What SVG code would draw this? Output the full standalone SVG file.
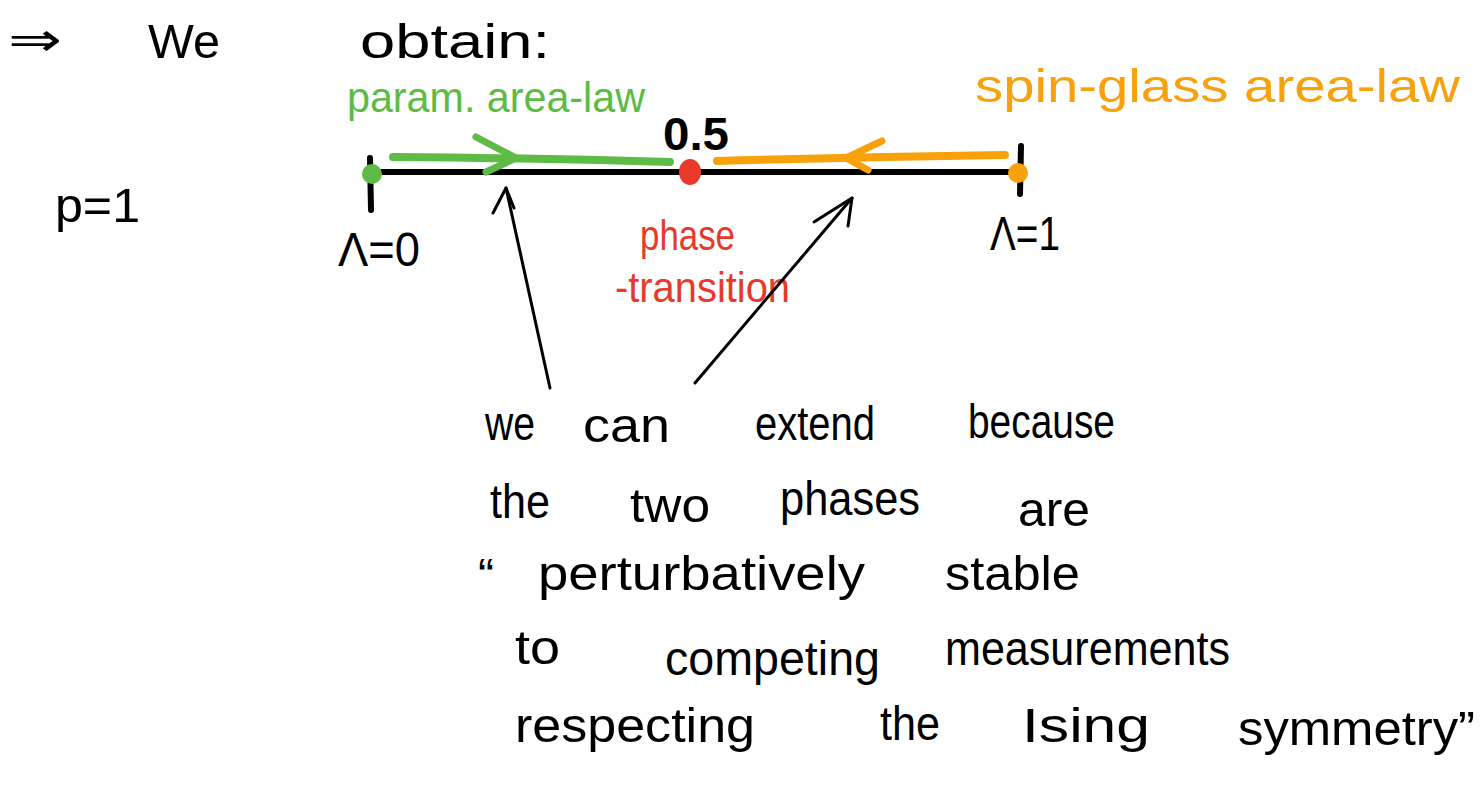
<svg xmlns="http://www.w3.org/2000/svg" width="1483" height="801" viewBox="0 0 1483 801">
<style>
text{font-family:"Liberation Sans","DejaVu Sans",sans-serif;}
.k{fill:#000;font-size:48px;}
.g{fill:#5dbb46;font-size:42px;}
.o{fill:#f9a10b;font-size:46px;}
.r{fill:#e8392a;font-size:42px;}
.stk{fill:none;stroke-linecap:round;stroke-linejoin:round;}
</style>
<rect width="1483" height="801" fill="#fff"/>
<g id="title">
<text class="k" x="8" y="56" font-size="64" textLength="54" lengthAdjust="spacingAndGlyphs">⇒</text>
<text class="k" x="148" y="58" font-size="62" textLength="72" lengthAdjust="spacingAndGlyphs">We</text>
<text class="k" x="360" y="58" font-size="52" textLength="190" lengthAdjust="spacingAndGlyphs">obtain:</text>
</g>
<g id="p-label"><text class="k" x="55" y="222" font-size="54" textLength="85" lengthAdjust="spacingAndGlyphs">p=1</text></g>
<g id="label-param"><text class="g" x="347" y="112" textLength="298" lengthAdjust="spacingAndGlyphs">param. area-law</text></g>
<g id="label-spin"><text class="o" x="975" y="102" textLength="485" lengthAdjust="spacingAndGlyphs">spin-glass area-law</text></g>
<g id="label-05"><text x="663" y="150" font-size="46" font-weight="bold" fill="#000" textLength="66" lengthAdjust="spacingAndGlyphs">0.5</text></g>
<g id="axis">
<line x1="370" y1="172" x2="1020" y2="172" stroke="#000" stroke-width="6"/>
<line class="stk" x1="370" y1="158" x2="371" y2="210" stroke="#000" stroke-width="6"/>
<line class="stk" x1="1021" y1="146" x2="1020" y2="194" stroke="#000" stroke-width="6"/>
</g>
<g id="node-left"><circle cx="372" cy="174" r="10" fill="#5dbb46"/>
<text class="k" x="338" y="266" font-size="44" textLength="82" lengthAdjust="spacingAndGlyphs">Λ=0</text></g>
<g id="node-mid"><ellipse cx="690" cy="172" rx="11" ry="13" fill="#e8392a"/></g>
<g id="node-right"><circle cx="1018" cy="173" r="10" fill="#f9a10b"/>
<text class="k" x="990" y="250" font-size="34" textLength="70" lengthAdjust="spacingAndGlyphs">Λ=1</text></g>
<g id="label-phase">
<text class="r" x="640" y="250" textLength="95" lengthAdjust="spacingAndGlyphs">phase</text>
<text class="r" x="615" y="302" textLength="175" lengthAdjust="spacingAndGlyphs">-transition</text>
</g>
<g id="connectors">
<path class="stk" d="M393 157 Q530 158 670 162" stroke="#5dbb46" stroke-width="8"/>
<path class="stk" d="M476 137 L516 158 L486 172" stroke="#5dbb46" stroke-width="7"/>
<path class="stk" d="M717 161 Q860 157 1005 155" stroke="#f9a10b" stroke-width="8"/>
<path class="stk" d="M882 141 L846 158 L868 170" stroke="#f9a10b" stroke-width="7"/>
<path class="stk" d="M550 388 L506 188" stroke="#000" stroke-width="3"/>
<path class="stk" d="M493 213 L506 188 L514 208" stroke="#000" stroke-width="3"/>
<path class="stk" d="M695 383 L852 198" stroke="#000" stroke-width="3"/>
<path class="stk" d="M814 222 L852 198 L848 226" stroke="#000" stroke-width="3"/>
</g>
<g id="note">
<text class="k" x="485" y="440" textLength="50" lengthAdjust="spacingAndGlyphs">we</text>
<text class="k" x="583" y="442" textLength="87" lengthAdjust="spacingAndGlyphs">can</text>
<text class="k" x="755" y="440" textLength="120" lengthAdjust="spacingAndGlyphs">extend</text>
<text class="k" x="968" y="438" textLength="147" lengthAdjust="spacingAndGlyphs">because</text>
<text class="k" x="490" y="518" textLength="60" lengthAdjust="spacingAndGlyphs">the</text>
<text class="k" x="630" y="522" textLength="80" lengthAdjust="spacingAndGlyphs">two</text>
<text class="k" x="780" y="515" textLength="140" lengthAdjust="spacingAndGlyphs">phases</text>
<text class="k" x="1018" y="526" textLength="72" lengthAdjust="spacingAndGlyphs">are</text>
<text class="k" x="478" y="592">“</text>
<text class="k" x="538" y="590" textLength="327" lengthAdjust="spacingAndGlyphs">perturbatively</text>
<text class="k" x="945" y="590" textLength="135" lengthAdjust="spacingAndGlyphs">stable</text>
<text class="k" x="515" y="664" textLength="45" lengthAdjust="spacingAndGlyphs">to</text>
<text class="k" x="665" y="675" textLength="215" lengthAdjust="spacingAndGlyphs">competing</text>
<text class="k" x="945" y="665" textLength="285" lengthAdjust="spacingAndGlyphs">measurements</text>
<text class="k" x="515" y="742" textLength="240" lengthAdjust="spacingAndGlyphs">respecting</text>
<text class="k" x="880" y="740" textLength="60" lengthAdjust="spacingAndGlyphs">the</text>
<text class="k" x="1022" y="742" textLength="128" lengthAdjust="spacingAndGlyphs">Ising</text>
<text class="k" x="1238" y="745" textLength="237" lengthAdjust="spacingAndGlyphs">symmetry”</text>
</g>
</svg>
